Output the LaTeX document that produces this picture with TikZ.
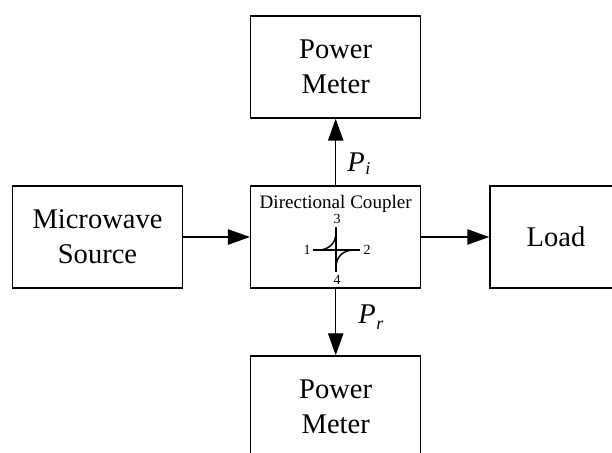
\documentclass[tikz,border=0pt]{standalone}
\usepackage{fontspec}
\setmainfont{Liberation Serif}
\usetikzlibrary{arrows.meta}
\tikzset{
  blockbox/.style={draw,line width=1.1pt,minimum width=127.5pt,minimum height=76.5pt,inner sep=0pt,align=center,font=\fontsize{21.4}{26}\selectfont},
  portnum/.style={inner sep=0pt,font=\fontsize{10.5}{12}\selectfont},
  powerlabel/.style={inner sep=0pt,anchor=base west,font=\fontsize{21.4}{26}\selectfont\itshape}
}
\begin{document}
\begin{tikzpicture}[line cap=butt,line join=miter,>={Triangle[length=16.5pt,width=11.5pt]},x=.75pt,y=-.75pt]
\useasboundingbox (0,0) rectangle (612,453);
\clip (0,0) rectangle (612,453);
\node[blockbox] (source) at (97.5,237) {Microwave\\Source};
\node[blockbox] (coupler) at (335.7,237) {};
\node[blockbox] (topmeter) at (335.7,67) {Power\\Meter};
\node[blockbox] (botmeter) at (335.7,407) {Power\\Meter};
\node[blockbox,minimum width=99pt] (load) at (556,237) {Load};
\node[inner sep=0pt,anchor=base,font=\fontsize{14.3}{16}\selectfont] (title) at (335.7,208.5) {Directional Coupler};
\draw[->,line width=1.1pt] (source) -- (coupler);
\draw[->,line width=1.1pt] (coupler) -- (load);
\draw[->,line width=1.1pt] (coupler) -- (topmeter);
\draw[->,line width=1.1pt] (coupler) -- (botmeter);
\node[powerlabel] (pi) at (347,172) {P\raisebox{-.2ex}{\fontsize{13.5}{16}\selectfont\kern.5pt i}};
\node[powerlabel] (pr) at (358,324) {P\raisebox{-.4ex}{\fontsize{13.5}{16}\selectfont\kern.5pt r}};
% coupler symbol
\coordinate (west) at (312.5,250);
\coordinate (east) at (359.5,250);
\coordinate (north) at (336,227);
\coordinate (south) at (336,272);
\draw[line width=1.1pt] (west) -- (east);
\draw[line width=1.1pt] (north) -- (south);
\draw[line width=1.1pt] (320,250) .. controls (329,249) and (335,244) .. (336,234);
\draw[line width=1.1pt] (336,266) .. controls (337,256) and (343,251) .. (352,250);
\node[portnum] (p1) at (307,250) {1};
\node[portnum] (p2) at (367,250) {2};
\node[portnum] (p3) at (337,219) {3};
\node[portnum] (p4) at (337,280) {4};
\end{tikzpicture}
\end{document}
